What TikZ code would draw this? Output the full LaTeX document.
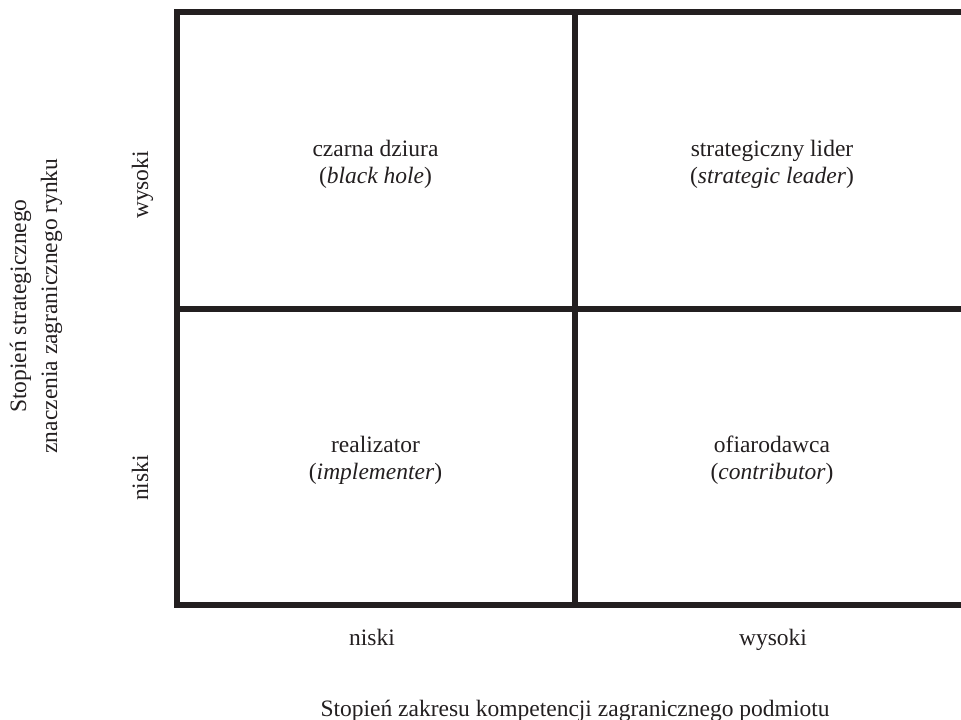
\documentclass[tikz,border=0pt]{standalone}
\usepackage{fontspec}
\setmainfont{Liberation Serif}
\definecolor{ink}{HTML}{231F20}
\begin{document}
\begin{tikzpicture}[x=1pt,y=-1pt,
  grid/.style={draw=ink,line width=6pt,line join=miter,line cap=rect},
  lbl/.style={inner sep=0pt,anchor=base,text=ink,font=\fontsize{23.5}{28}\selectfont},
  vlbl/.style={lbl,rotate=90}]
\useasboundingbox (0,0) rectangle (961,720);
% grid corners
\coordinate (tl) at (177,12);
\coordinate (tr) at (975,12);
\coordinate (ml) at (177,309);
\coordinate (mr) at (975,309);
\coordinate (bl) at (177,605);
\coordinate (br) at (975,605);
\coordinate (tm) at (574.5,12);
\coordinate (bm) at (574.5,605);
\draw[grid] (tr) -- (tl) -- (bl) -- (br);
\draw[grid] (ml) -- (mr);
\draw[grid] (tm) -- (bm);
% quadrant texts
\node[lbl] (q1a) at (375.5,156) {czarna dziura};
\node[lbl] (q1b) at (375.5,183.5) {(\textit{black hole})};
\node[lbl] (q2a) at (772,156) {strategiczny lider};
\node[lbl] (q2b) at (772,183.5) {(\textit{strategic leader})};
\node[lbl] (q3a) at (375.5,452) {realizator};
\node[lbl] (q3b) at (375.5,479.5) {(\textit{implementer})};
\node[lbl] (q4a) at (772,452) {ofiarodawca};
\node[lbl] (q4b) at (772,479.5) {(\textit{contributor})};
% bottom axis
\node[lbl] (xlow) at (372,645) {niski};
\node[lbl] (xhigh) at (773,645) {wysoki};
\node[lbl] (xtitle) at (575,716) {Stopień zakresu kompetencji zagranicznego podmiotu};
% left axis
\node[vlbl] (yhigh) at (148,185) {wysoki};
\node[vlbl] (ylow) at (148,478) {niski};
\node[vlbl] (ytitle1) at (26,306) {Stopień strategicznego};
\node[vlbl] (ytitle2) at (57,306) {znaczenia zagranicznego rynku};
\end{tikzpicture}
\end{document}
